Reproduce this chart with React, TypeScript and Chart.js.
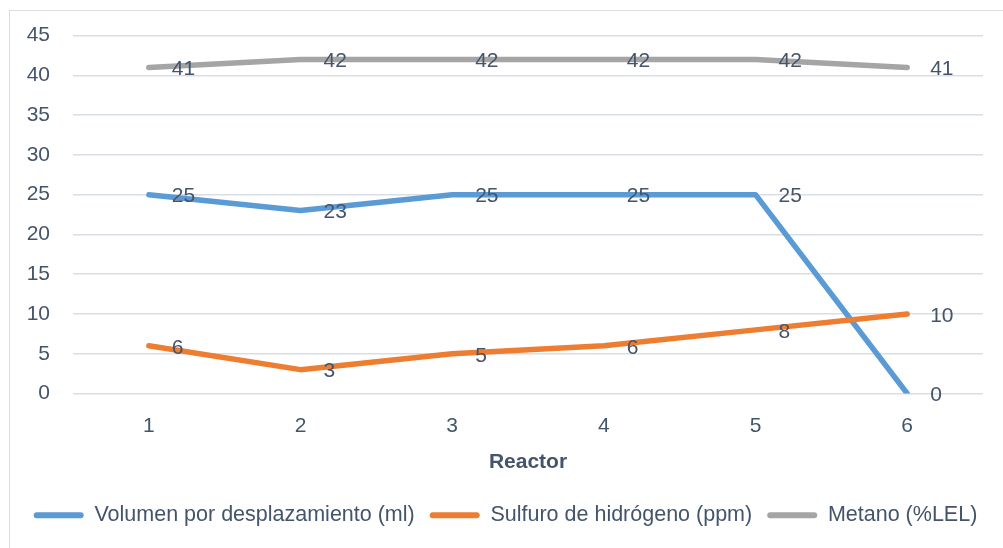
import React, { useEffect, useRef } from "react";
import { Chart, registerables } from "chart.js";

Chart.register(...registerables);

const categories = ["1", "2", "3", "4", "5", "6"];
const volumen = [25, 23, 25, 25, 25, 0];
const sulfuro = [6, 3, 5, 6, 8, 10];
const metano = [41, 42, 42, 42, 42, 41];
const seriesNames = [
  "Volumen por desplazamiento (ml)",
  "Sulfuro de hidrógeno (ppm)",
  "Metano (%LEL)",
];
const seriesColors = ["#5B9BD5", "#ED7D31", "#A5A5A5"];
const axisTitle = "Reactor";

const TEXT = "#44546A";
const FONT = "'Liberation Sans', Arial, sans-serif";

const dataLabels = {
  id: "dataLabels",
  afterDatasetsDraw(chart: any) {
    const ctx = chart.ctx;
    ctx.save();
    ctx.font = `21px ${FONT}`;
    ctx.fillStyle = TEXT;
    ctx.textAlign = "left";
    ctx.textBaseline = "middle";
    chart.data.datasets.forEach((ds: any, i: number) => {
      const meta = chart.getDatasetMeta(i);
      meta.data.forEach((pt: any, j: number) => {
        ctx.fillText(String(ds.data[j]), pt.x + 23, pt.y + 2);
      });
    });
    ctx.restore();
  },
};

const legendShift = {
  id: "legendShift",
  afterLayout(chart: any) {
    if (chart.legend) {
      chart.legend.left += 14;
      chart.legend.right += 14;
    }
  },
};

export default function App() {
  const ref = useRef<HTMLCanvasElement | null>(null);
  useEffect(() => {
    if (!ref.current) return;
    const mk = (i: number, data: number[], order: number) => ({
      label: seriesNames[i],
      data,
      borderColor: seriesColors[i],
      backgroundColor: seriesColors[i],
      borderWidth: 5.5,
      pointRadius: 0,
      tension: 0,
      borderCapStyle: "round" as const,
      borderJoinStyle: "round" as const,
      order,
    });
    const chart = new Chart(ref.current, {
      type: "line",
      data: {
        labels: categories,
        datasets: [mk(0, volumen, 3), mk(1, sulfuro, 2), mk(2, metano, 1)],
      },
      options: {
        animation: false,
        responsive: false,
        maintainAspectRatio: false,
        layout: { padding: { left: 0, right: 20, top: 34, bottom: 12 } },
        plugins: {
          legend: {
            position: "bottom",
            labels: {
              color: TEXT,
              font: { family: FONT, size: 21.5 },
              boxWidth: 50,
              boxHeight: 6,
              padding: 15,
              useBorderRadius: true,
              borderRadius: 3,
              sort: (a: any, b: any) => a.datasetIndex - b.datasetIndex,
              generateLabels: (c: any) =>
                (Chart.defaults.plugins.legend.labels as any)
                  .generateLabels(c)
                  .map((l: any) => ({ ...l, lineWidth: 0 })),
            },
          },
          tooltip: { enabled: false },
        },
        scales: {
          x: {
            offset: true,
            grid: { display: false },
            border: { display: false },
            ticks: { color: TEXT, font: { family: FONT, size: 21 }, padding: 12 },
            title: {
              display: true,
              text: axisTitle,
              color: TEXT,
              font: { family: FONT, size: 21, weight: "bold" },
              padding: { top: 0, bottom: 15 },
            },
            afterFit: (s: any) => {
              s.height = 96;
            },
          },
          y: {
            min: 0,
            max: 45,
            ticks: {
              stepSize: 5,
              color: TEXT,
              font: { family: FONT, size: 21 },
              padding: 23,
            },
            grid: { color: "#D9DDE4", lineWidth: 1.5, drawTicks: false },
            border: { display: false },
            afterFit: (s: any) => {
              s.width = 73;
            },
          },
        },
      },
      plugins: [dataLabels, legendShift],
    });
    return () => chart.destroy();
  }, []);

  return (
    <div
      style={{
        position: "fixed",
        left: 0,
        top: 0,
        width: 1003,
        height: 548,
        overflow: "hidden",
        background: "#fff",
      }}
    >
      <div
        style={{
          position: "absolute",
          left: 9,
          top: 10,
          width: 1100,
          height: 700,
          border: "1px solid #D9DDE4",
        }}
      />
      <canvas
        ref={ref}
        width={1003}
        height={548}
        style={{ position: "absolute", left: 0, top: 0 }}
      />
    </div>
  );
}
